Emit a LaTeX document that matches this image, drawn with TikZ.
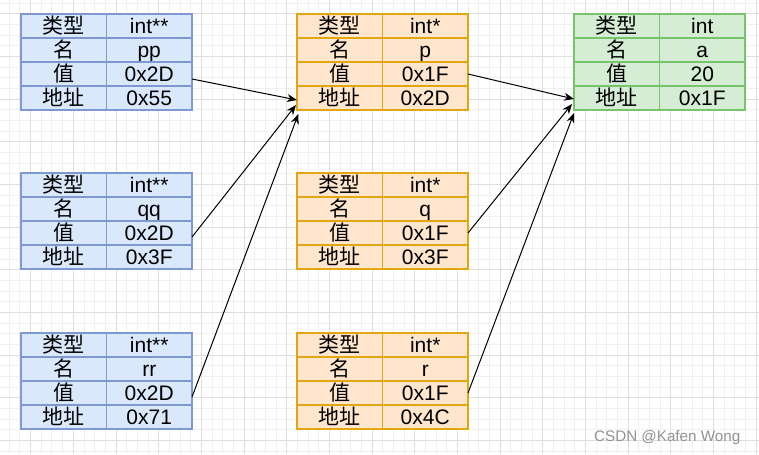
\documentclass[tikz,border=0pt]{standalone}
\usepackage{fontspec}
\setmainfont{Liberation Sans}
\newfontfamily\cjk{Noto Sans CJK SC}
\usetikzlibrary{arrows.meta}
\definecolor{bluefill}{HTML}{DAE8FC}
\definecolor{blueline}{HTML}{8098D2}
\definecolor{orangefill}{HTML}{FFE6CC}
\definecolor{orangeline}{HTML}{E2A610}
\definecolor{greenfill}{HTML}{D5EDD4}
\definecolor{greenline}{HTML}{78C46C}
\definecolor{minorgrid}{HTML}{F0F0F0}
\definecolor{majorgrid}{HTML}{DEDEDE}

\begin{document}
\begin{tikzpicture}[x=0.75pt, y=-0.75pt,
    cell/.style={draw, line width=1pt, minimum width=64.125pt, minimum height=18pt,
        inner sep=0pt, outer sep=0pt, text height=11.3pt, text depth=0pt,
        font=\fontsize{15.75}{18}\selectfont},
    dblptr/.style={cell, fill=bluefill, draw=blueline},
    ptr/.style={cell, fill=orangefill, draw=orangeline},
    intvar/.style={cell, fill=greenfill, draw=greenline},
    link/.style={-{Stealth[length=7.5pt,width=6pt]}, line width=0.75pt}]
    \useasboundingbox (0,0) rectangle (759,454);
    \fill[white] (0,0) rectangle (759,454);

    % grid
    \foreach \i in {0,...,70} \draw[minorgrid, line width=0.75pt] ({9.33+\i*10.667},0) -- ++(0,454);
    \foreach \i in {0,...,42} \draw[minorgrid, line width=0.75pt] (0,{3+\i*10.667}) -- ++(759,0);
    \foreach \i in {0,...,17} \draw[majorgrid, line width=0.75pt] ({30.67+\i*42.667},0) -- ++(0,454);
    \foreach \i in {0,...,10} \draw[majorgrid, line width=0.75pt] (0,{13.67+\i*42.667}) -- ++(759,0);

    % pp
    \node[dblptr] (pp-type-k) at (63.75,26) {\cjk 类型}; \node[dblptr] (pp-type) at (149.25,26) {int**};
    \node[dblptr] (pp-name-k) at (63.75,50) {\cjk 名};   \node[dblptr] (pp-name) at (149.25,50) {pp};
    \node[dblptr] (pp-val-k) at (63.75,74) {\cjk 值};    \node[dblptr] (pp-val) at (149.25,74) {0x2D};
    \node[dblptr] (pp-addr-k) at (63.75,98) {\cjk 地址}; \node[dblptr] (pp-addr) at (149.25,98) {0x55};
    % qq
    \node[dblptr] (qq-type-k) at (63.75,185) {\cjk 类型}; \node[dblptr] (qq-type) at (149.25,185) {int**};
    \node[dblptr] (qq-name-k) at (63.75,209) {\cjk 名};   \node[dblptr] (qq-name) at (149.25,209) {qq};
    \node[dblptr] (qq-val-k) at (63.75,233) {\cjk 值};    \node[dblptr] (qq-val) at (149.25,233) {0x2D};
    \node[dblptr] (qq-addr-k) at (63.75,257) {\cjk 地址}; \node[dblptr] (qq-addr) at (149.25,257) {0x3F};
    % rr
    \node[dblptr] (rr-type-k) at (63.75,345) {\cjk 类型}; \node[dblptr] (rr-type) at (149.25,345) {int**};
    \node[dblptr] (rr-name-k) at (63.75,369) {\cjk 名};   \node[dblptr] (rr-name) at (149.25,369) {rr};
    \node[dblptr] (rr-val-k) at (63.75,393) {\cjk 值};    \node[dblptr] (rr-val) at (149.25,393) {0x2D};
    \node[dblptr] (rr-addr-k) at (63.75,417) {\cjk 地址}; \node[dblptr] (rr-addr) at (149.25,417) {0x71};

    % p
    \node[ptr] (p-type-k) at (339.75,26) {\cjk 类型}; \node[ptr] (p-type) at (425.25,26) {int*};
    \node[ptr] (p-name-k) at (339.75,50) {\cjk 名};   \node[ptr] (p-name) at (425.25,50) {p};
    \node[ptr] (p-val-k) at (339.75,74) {\cjk 值};    \node[ptr] (p-val) at (425.25,74) {0x1F};
    \node[ptr] (p-addr-k) at (339.75,98) {\cjk 地址}; \node[ptr] (p-addr) at (425.25,98) {0x2D};
    % q
    \node[ptr] (q-type-k) at (339.75,185) {\cjk 类型}; \node[ptr] (q-type) at (425.25,185) {int*};
    \node[ptr] (q-name-k) at (339.75,209) {\cjk 名};   \node[ptr] (q-name) at (425.25,209) {q};
    \node[ptr] (q-val-k) at (339.75,233) {\cjk 值};    \node[ptr] (q-val) at (425.25,233) {0x1F};
    \node[ptr] (q-addr-k) at (339.75,257) {\cjk 地址}; \node[ptr] (q-addr) at (425.25,257) {0x3F};
    % r
    \node[ptr] (r-type-k) at (339.75,345) {\cjk 类型}; \node[ptr] (r-type) at (425.25,345) {int*};
    \node[ptr] (r-name-k) at (339.75,369) {\cjk 名};   \node[ptr] (r-name) at (425.25,369) {r};
    \node[ptr] (r-val-k) at (339.75,393) {\cjk 值};    \node[ptr] (r-val) at (425.25,393) {0x1F};
    \node[ptr] (r-addr-k) at (339.75,417) {\cjk 地址}; \node[ptr] (r-addr) at (425.25,417) {0x4C};

    % a
    \node[intvar] (a-type-k) at (616.75,26) {\cjk 类型}; \node[intvar] (a-type) at (702.25,26) {int};
    \node[intvar] (a-name-k) at (616.75,50) {\cjk 名};   \node[intvar] (a-name) at (702.25,50) {a};
    \node[intvar] (a-val-k) at (616.75,74) {\cjk 值};    \node[intvar] (a-val) at (702.25,74) {20};
    \node[intvar] (a-addr-k) at (616.75,98) {\cjk 地址}; \node[intvar] (a-addr) at (702.25,98) {0x1F};

    % pointers
    \draw[link] ([yshift=-3.75pt]pp-val.east) -- ([yshift=-1.5pt]p-addr-k.west);
    \draw[link] ([yshift=-3pt]qq-val.east) -- ([xshift=-0.75pt,yshift=-5.25pt]p-addr-k.west);
    \draw[link] ([yshift=-3pt]rr-val.east) -- ([xshift=1pt,yshift=-3pt]p-addr-k.south west);
    \draw[link] (p-val.east) -- ([yshift=-0.75pt]a-addr-k.west);
    \draw[link] (q-val.east) -- ([xshift=-1.5pt,yshift=-4.5pt]a-addr-k.west);
    \draw[link] (r-val.east) -- ([xshift=0pt,yshift=-2.25pt]a-addr-k.south west);

    \node[anchor=base east, text=gray!85, font=\fontsize{11.4}{13}\selectfont] (watermark) at (745,441) {CSDN @Kafen Wong};
\end{tikzpicture}
\end{document}
